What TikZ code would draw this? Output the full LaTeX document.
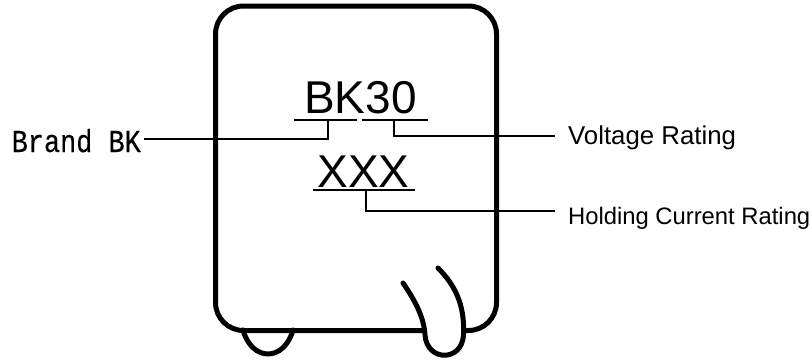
\documentclass[tikz,border=0pt]{standalone}
\usepackage{fontspec}
\setmainfont{Liberation Sans}
\newfontfamily\brandfont[FakeStretch=0.84, FakeBold=0.2]{Liberation Mono}
\begin{document}
\begin{tikzpicture}[x=1pt, y=-1pt,
   body/.style={line width=5pt, line cap=round, line join=round},
   leader/.style={line width=1.6pt},
   mark text/.style={inner sep=0pt, font=\fontsize{46}{54}\selectfont},
   label text/.style={inner sep=0pt}]
   \useasboundingbox (0,0) rectangle (812,364);
   \draw[body, rounded corners=28pt] (422,330.5) -- (215.5,330.5) -- (215.5,6) -- (496.5,6) -- (496.5,330.5) -- (464,330.5);
   \draw[body] (243,330) .. controls (252,362) and (284,362) .. (293,330);
   \draw[body] (403,283) .. controls (416,302) and (424,318) .. (425,335)
      .. controls (427,362) and (462,362) .. (463.5,335)
      .. controls (465,305) and (455,285) .. (438,268);
   \node[mark text, anchor=base] (bk30) at (360.5,113) {BK30};
   \node[mark text, anchor=base] (xxx) at (363.5,187) {XXX};
   \coordinate (ubk) at (328,120);
   \coordinate (uvolt) at (394,120);
   \coordinate (uhold) at (366,190);
   \draw[leader] (294,120) -- (357,120);
   \draw[leader] (362,120) -- (428,120);
   \draw[leader] (313,190) -- (415,190);
   \node[label text, anchor=base east, font=\brandfont\fontsize{32}{36}\selectfont] (brand) at (141,152) {Brand BK};
   \node[label text, anchor=base west, font=\fontsize{25.8}{30}\selectfont] (volt) at (568,144) {Voltage Rating};
   \node[label text, anchor=base west, font=\fontsize{23.8}{28}\selectfont] (hold) at (568,224) {Holding Current Rating};
   \coordinate (brandend) at (144,139);
   \coordinate (voltend) at (555,136);
   \coordinate (holdend) at (555,211);
   \draw[leader] (ubk) |- (brandend);
   \draw[leader] (uvolt) |- (voltend);
   \draw[leader] (uhold) |- (holdend);
\end{tikzpicture}
\end{document}
